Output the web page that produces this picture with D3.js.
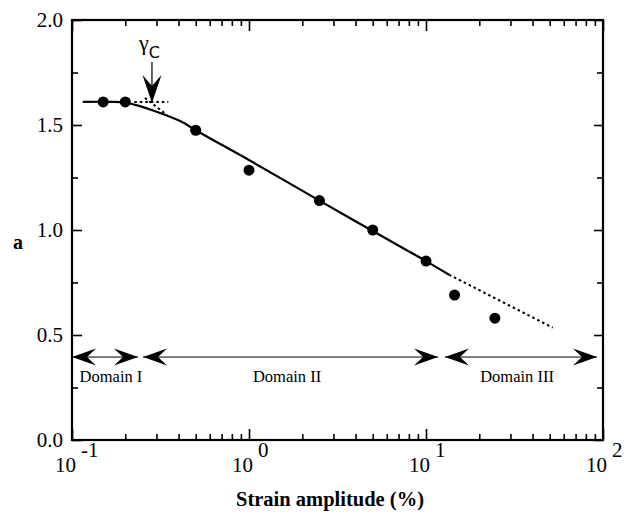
<!DOCTYPE html>
<html>
<head>
<meta charset="utf-8">
<script src="https://cdn.jsdelivr.net/npm/d3@7"></script>
<style>
  body { margin: 0; background: #fff; }
  svg { display: block; }
  text { font-family: "Liberation Serif", "Times New Roman", serif; fill: #000; }
</style>
</head>
<body>
<div id="chart"></div>
<script>
// Measured points (strain amplitude %, a)
const strain = [0.15, 0.2, 0.5, 1.0, 2.5, 5, 10, 14.5, 24.5]
const aValues = [1.61, 1.61, 1.475, 1.285, 1.14, 1.0, 0.852, 0.69, 0.58]

// Solid fitted curve
const fitStrain = [0.115, 0.17, 0.2, 0.242, 0.314, 0.424, 0.5, 1, 2.5, 5, 10, 13.5]
const fitA = [1.61, 1.61, 1.606, 1.59, 1.557, 1.512, 1.475, 1.333, 1.14, 0.995, 0.852, 0.787]

// Dotted extrapolation into domain III
const extStrain = [13.5, 52]
const extA = [0.787, 0.535]

// Dotted tangent lines around gamma_c
const tanFlatStrain = [0.225, 0.35]
const tanFlatA = [1.61, 1.61]
const tanSlopeStrain = [0.258, 0.344]
const tanSlopeA = [1.629, 1.548]

// gamma_c arrow
const gammaC = 0.283
const gammaArrowA = [1.8, 1.605]

// Domain arrows
const domainLabels = ['Domain I', 'Domain II', 'Domain III']
const domainFrom = [0.1, 0.252, 12.8]
const domainTo = [0.236, 11.7, 92.5]
const domainLabelX = [0.166, 1.64, 32.7]
const domainArrowA = 0.395
const domainTextA = 0.276

const xMajor = [0.1, 1, 10, 100]
const xExp = ['-1', '0', '1', '2']
const yMajor = [0.0, 0.5, 1.0, 1.5, 2.0]
const yMinor = [0.25, 0.75, 1.25, 1.75]

const drawChart = () => {
  const margin = { top: 20, right: 27, bottom: 74, left: 72 }
  const width = 630
  const height = 514
  const innerWidth = width - margin.left - margin.right
  const innerHeight = height - margin.top - margin.bottom

  const svg = d3.select('#chart')
    .append('svg')
    .attr('width', width)
    .attr('height', height)

  const g = svg.append('g')
    .attr('transform', `translate(${margin.left}, ${margin.top})`)

  const x = d3.scaleLog().domain([0.1, 100]).range([0, innerWidth])
  const y = d3.scaleLinear().domain([0, 2]).range([innerHeight, 0])

  // minor log ticks 2..9 per decade
  const xMinor = []
  xMajor.slice(0, 3).forEach(d => {
    for (let k = 2; k <= 9; k++) xMinor.push(d * k)
  })

  const styleAxis = sel => {
    sel.select('.domain').remove()
    sel.selectAll('line').attr('stroke', '#000').attr('stroke-width', 1.6)
    sel.selectAll('text').remove()
  }

  // ticks, all pointing inward
  g.append('g').attr('transform', `translate(0, ${innerHeight})`)
    .call(d3.axisBottom(x).tickValues(xMajor).tickSize(-11)).call(styleAxis)
  g.append('g').attr('transform', `translate(0, ${innerHeight})`)
    .call(d3.axisBottom(x).tickValues(xMinor).tickSize(-6)).call(styleAxis)
  g.append('g')
    .call(d3.axisTop(x).tickValues(xMajor).tickSize(-11)).call(styleAxis)
  g.append('g')
    .call(d3.axisTop(x).tickValues(xMinor).tickSize(-6)).call(styleAxis)
  g.append('g')
    .call(d3.axisLeft(y).tickValues(yMajor).tickSize(-10)).call(styleAxis)
  g.append('g')
    .call(d3.axisLeft(y).tickValues(yMinor).tickSize(-6)).call(styleAxis)
  g.append('g').attr('transform', `translate(${innerWidth}, 0)`)
    .call(d3.axisRight(y).tickValues(yMajor).tickSize(-9)).call(styleAxis)
  g.append('g').attr('transform', `translate(${innerWidth}, 0)`)
    .call(d3.axisRight(y).tickValues(yMinor).tickSize(-6)).call(styleAxis)

  // frame
  g.append('rect')
    .attr('width', innerWidth)
    .attr('height', innerHeight)
    .attr('fill', 'none')
    .attr('stroke', '#000')
    .attr('stroke-width', 2.2)

  // y tick labels
  g.selectAll('.ylab')
    .data(yMajor)
    .enter().append('text')
    .attr('x', -9)
    .attr('y', d => y(d))
    .attr('dy', '0.34em')
    .attr('text-anchor', 'end')
    .style('font-size', '21px')
    .text(d => d.toFixed(1))

  // x tick labels: 10 with superscript exponent
  const xl = g.selectAll('.xlab')
    .data(xMajor)
    .enter().append('text')
    .attr('x', d => x(d) - 17)
    .attr('y', innerHeight + 32)
    .style('font-size', '21px')
  xl.append('tspan').text('10')
  xl.append('tspan')
    .attr('dx', 5)
    .attr('dy', -15)
    .text((d, i) => xExp[i])

  // axis titles
  g.append('text')
    .attr('x', 258)
    .attr('y', innerHeight + 66)
    .attr('text-anchor', 'middle')
    .style('font-size', '20.5px')
    .style('font-weight', 'bold')
    .text('Strain amplitude (%)')

  svg.append('text')
    .attr('x', 18)
    .attr('y', 249)
    .attr('text-anchor', 'middle')
    .style('font-size', '20px')
    .style('font-weight', 'bold')
    .text('a')

  // fitted curve
  g.append('path')
    .datum(d3.zip(fitStrain, fitA))
    .attr('d', d3.line().x(d => x(d[0])).y(d => y(d[1])).curve(d3.curveCatmullRom))
    .attr('fill', 'none')
    .attr('stroke', '#000')
    .attr('stroke-width', 2.2)

  const straight = d3.line().x(d => x(d[0])).y(d => y(d[1]))

  // dotted lines
  const dotted = [
    d3.zip(extStrain, extA),
    d3.zip(tanFlatStrain, tanFlatA),
    d3.zip(tanSlopeStrain, tanSlopeA)
  ]
  g.selectAll('.dotted')
    .data(dotted)
    .enter().append('path')
    .attr('d', straight)
    .attr('fill', 'none')
    .attr('stroke', '#000')
    .attr('stroke-width', 2)
    .attr('stroke-dasharray', '2.5,3')

  // data points
  g.selectAll('.pt')
    .data(d3.zip(strain, aValues))
    .enter().append('circle')
    .attr('cx', d => x(d[0]))
    .attr('cy', d => y(d[1]))
    .attr('r', 5.5)
    .attr('fill', '#000')

  // arrowhead markers
  const defs = svg.append('defs')
  defs.append('marker')
    .attr('id', 'head')
    .attr('viewBox', '-24 -9 26 18')
    .attr('refX', 0)
    .attr('refY', 0)
    .attr('markerWidth', 26)
    .attr('markerHeight', 18)
    .attr('markerUnits', 'userSpaceOnUse')
    .attr('orient', 'auto-start-reverse')
    .append('path')
    .attr('d', 'M0,0 L-24,-8.5 L-15,0 L-24,8.5 Z')
    .attr('fill', '#000')

  defs.append('marker')
    .attr('id', 'headV')
    .attr('viewBox', '-28 -10 30 20')
    .attr('refX', 0)
    .attr('refY', 0)
    .attr('markerWidth', 30)
    .attr('markerHeight', 20)
    .attr('markerUnits', 'userSpaceOnUse')
    .attr('orient', 'auto')
    .append('path')
    .attr('d', 'M0,0 L-28,-9.5 L-17,0 L-28,9.5 Z')
    .attr('fill', '#000')

  // domain arrows
  g.selectAll('.domain-arrow')
    .data(domainLabels)
    .enter().append('line')
    .attr('x1', (d, i) => x(domainFrom[i]))
    .attr('x2', (d, i) => x(domainTo[i]))
    .attr('y1', y(domainArrowA))
    .attr('y2', y(domainArrowA))
    .attr('stroke', '#000')
    .attr('stroke-width', 1)
    .attr('marker-start', 'url(#head)')
    .attr('marker-end', 'url(#head)')

  g.selectAll('.domain-label')
    .data(domainLabels)
    .enter().append('text')
    .attr('x', (d, i) => x(domainLabelX[i]))
    .attr('y', y(domainTextA))
    .attr('text-anchor', 'middle')
    .style('font-size', '16.5px')
    .text(d => d)

  // gamma_c arrow and label
  g.append('line')
    .attr('x1', x(gammaC))
    .attr('x2', x(gammaC))
    .attr('y1', y(gammaArrowA[0]))
    .attr('y2', y(gammaArrowA[1]))
    .attr('stroke', '#000')
    .attr('stroke-width', 1.2)
    .attr('marker-end', 'url(#headV)')

  const gl = g.append('text')
    .attr('x', x(gammaC) - 13)
    .attr('y', y(gammaArrowA[0]) - 12)
    .style('font-size', '22px')
  gl.append('tspan').text('γ')
  gl.append('tspan')
    .attr('dy', 8)
    .style('font-family', '"DejaVu Sans", sans-serif')
    .style('font-size', '16px')
    .text('C')
}

drawChart()
</script>
</body>
</html>
